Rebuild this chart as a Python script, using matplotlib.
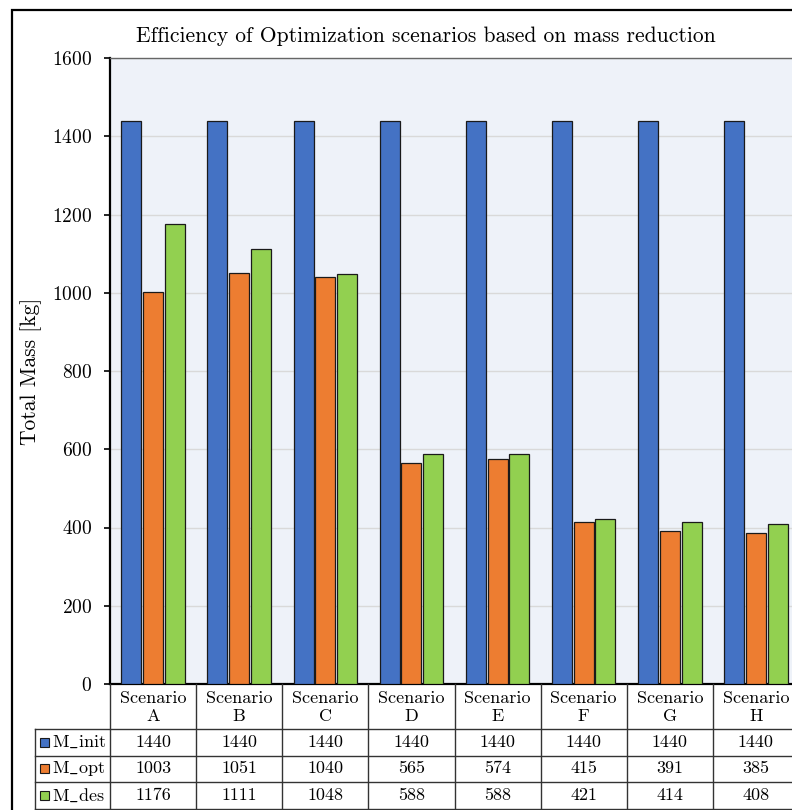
import numpy as np
import matplotlib
matplotlib.use('Agg')
import matplotlib.pyplot as plt
from matplotlib.patches import Rectangle

plt.rcParams['font.family'] = ['cmr10', 'DejaVu Serif']
plt.rcParams['axes.formatter.use_mathtext'] = True
plt.rcParams['mathtext.fontset'] = 'cm'

scenarios = ['A', 'B', 'C', 'D', 'E', 'F', 'G', 'H']
series_names = ['M_init', 'M_opt', 'M_des']
m_init = [1440, 1440, 1440, 1440, 1440, 1440, 1440, 1440]
m_opt = [1003, 1051, 1040, 565, 574, 415, 391, 385]
m_des = [1176, 1111, 1048, 588, 588, 421, 414, 408]
colors = ['#4472C4', '#ED7D31', '#92D050']
yticks = [0, 200, 400, 600, 800, 1000, 1200, 1400, 1600]

W, H = 792, 810
fig = plt.figure(figsize=(W / 100, H / 100), dpi=100)

# pixel layout (the chart is cut off on the right)
ax_l, ax_r, ax_t, ax_b = 110, 799, 58, 684
cat_w = (ax_r - ax_l) / len(scenarios)

def fx(px):
    return px / W

def fy(py):
    return 1 - py / H

# outer frame
fig.patches.append(Rectangle((fx(12), fy(860)), fx(900), fy(10) - fy(860),
                             transform=fig.transFigure, fill=False,
                             edgecolor='black', linewidth=1.6))

ax = fig.add_axes([fx(ax_l), fy(ax_b), fx(ax_r - ax_l), (ax_b - ax_t) / H])
ax.set_facecolor('#EEF2F9')

x = np.arange(len(scenarios))
bw = 20 / cat_w
step = 21.7 / cat_w
for i, (vals, c) in enumerate(zip([m_init, m_opt, m_des], colors)):
    ax.bar(x + (i - 1) * step, vals, width=bw, color=c, edgecolor='#1a1a1a',
           linewidth=0.9, zorder=3)

ax.set_xlim(-0.5, len(scenarios) - 0.5)
ax.set_ylim(0, 1600)
ax.set_yticks(yticks)
ax.set_xticks([])
ax.yaxis.grid(True, color='#D9D9D9', linewidth=1.0, zorder=0)
ax.set_axisbelow(True)
ax.tick_params(axis='y', direction='out', length=4.5, width=1.2, pad=8.5,
               labelsize=14)
ax.spines['left'].set_linewidth(1.6)
ax.spines['bottom'].set_linewidth(1.6)
ax.spines['top'].set_color('#666666')
ax.spines['top'].set_linewidth(1.0)
ax.spines['right'].set_visible(False)
ax.set_ylabel('Total Mass [kg]', fontsize=15.5, labelpad=7)
fig.text(fx(426), fy(36), 'Efficiency of Optimization scenarios based on mass reduction',
         ha='center', va='center', fontsize=15.5)

# data table below the axes
tab_top, head_b = ax_b, 729
row_h = 26.5
rows_b = [head_b + row_h * (k + 1) for k in range(3)]
lab_l = 35
tab = fig.add_axes([fx(ax_l), fy(rows_b[-1]), fx(ax_r - ax_l), (rows_b[-1] - tab_top) / H])
tab.set_xlim(-0.5, len(scenarios) - 0.5)
tab.set_ylim(rows_b[-1], tab_top)
tab.axis('off')
xl = -0.5 - (ax_l - lab_l) / cat_w
lc = '#333333'
lw = 1.0
for yy in [head_b] + rows_b:
    tab.plot([xl, len(scenarios) - 0.5], [yy, yy], color=lc, lw=lw, clip_on=False)
tab.plot([xl, xl], [head_b, rows_b[-1]], color=lc, lw=lw, clip_on=False)
for k in range(len(scenarios) + 1):
    tab.plot([k - 0.5, k - 0.5], [tab_top, rows_b[-1]], color=lc, lw=lw, clip_on=False)

for k, s in enumerate(scenarios):
    tab.text(k, (tab_top + head_b) / 2 + 1, 'Scenario\n' + s, ha='center', va='center',
             fontsize=13, linespacing=1.2)

row_tops = [head_b] + rows_b[:-1]
for r, (name, vals, c) in enumerate(zip(series_names, [m_init, m_opt, m_des], colors)):
    yc = row_tops[r] + row_h / 2
    sq = 9 / cat_w
    tab.add_patch(Rectangle((xl + 5 / cat_w, yc + 4.5), sq, -9, facecolor=c,
                            edgecolor='#1a1a1a', linewidth=0.8, clip_on=False))
    label = r'$\mathrm{' + name.replace('_', r'\_') + '}$'
    tab.text(xl + 17 / cat_w, yc, label, ha='left', va='center', fontsize=13)
    for k, v in enumerate(vals):
        tab.text(k, yc, str(v), ha='center', va='center', fontsize=13)

fig.savefig('out.png', dpi=100)
